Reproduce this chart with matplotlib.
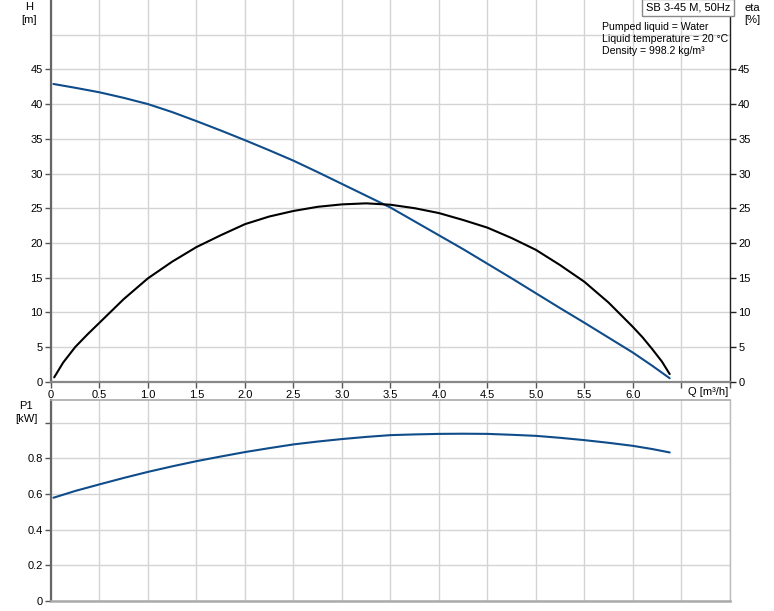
import matplotlib
matplotlib.use("Agg")
import matplotlib.pyplot as plt

# ---- data ----
q_h = [0.025, 0.25, 0.5, 0.75, 1.0, 1.25, 1.5, 1.75, 2.0, 2.25, 2.5, 2.75, 3.0, 3.25,
       3.5, 3.75, 4.0, 4.25, 4.5, 4.75, 5.0, 5.25, 5.5, 5.75, 6.0, 6.2, 6.38]
h_vals = [42.9, 42.35, 41.7, 40.9, 40.0, 38.85, 37.55, 36.2, 34.8, 33.35, 31.85, 30.2,
          28.5, 26.8, 25.1, 23.1, 21.1, 19.1, 17.0, 14.9, 12.75, 10.6, 8.5, 6.35, 4.2,
          2.3, 0.5]

q_eta = [0.033, 0.125, 0.25, 0.375, 0.5, 0.75, 1.0, 1.25, 1.5, 1.75, 2.0, 2.25, 2.5, 2.75,
         3.0, 3.25, 3.5, 3.75, 4.0, 4.25, 4.5, 4.75, 5.0, 5.25, 5.5, 5.75, 6.0, 6.1, 6.2,
         6.3, 6.38]
eta_vals = [0.63, 2.75, 5.0, 6.8, 8.5, 11.9, 14.9, 17.3, 19.4, 21.1, 22.7, 23.8, 24.6,
            25.2, 25.55, 25.7, 25.5, 25.0, 24.3, 23.3, 22.2, 20.7, 19.0, 16.8, 14.4, 11.4,
            7.9, 6.4, 4.7, 2.9, 1.1]

q_p1 = [0.025, 0.25, 0.5, 0.75, 1.0, 1.25, 1.5, 1.75, 2.0, 2.25, 2.5, 2.75, 3.0, 3.25,
        3.5, 3.75, 4.0, 4.25, 4.5, 4.75, 5.0, 5.25, 5.5, 5.75, 6.0, 6.2, 6.38]
p1_vals = [0.579, 0.617, 0.654, 0.690, 0.724, 0.755, 0.784, 0.810, 0.835, 0.857, 0.878,
           0.894, 0.908, 0.920, 0.930, 0.934, 0.937, 0.938, 0.937, 0.932, 0.926, 0.915,
           0.902, 0.887, 0.870, 0.852, 0.833]

x_ticks = [0, 0.5, 1.0, 1.5, 2.0, 2.5, 3.0, 3.5, 4.0, 4.5, 5.0, 5.5, 6.0, 6.5, 7.0]
x_labels = ["0", "0.5", "1.0", "1.5", "2.0", "2.5", "3.0", "3.5", "4.0", "4.5",
            "5.0", "5.5", "6.0", "", ""]
h_ticks = [0, 5, 10, 15, 20, 25, 30, 35, 40, 45]
h_labels = ["0", "5", "10", "15", "20", "25", "30", "35", "40", "45"]
h_extra_grid = [50]
p_ticks = [0, 0.2, 0.4, 0.6, 0.8, 1.0]
p_labels = ["0", "0.2", "0.4", "0.6", "0.8", ""]

title_box = "SB 3-45 M, 50Hz"
info_lines = ["Pumped liquid = Water", "Liquid temperature = 20 °C", "Density = 998.2 kg/m³"]

# ---- style ----
W, H = 774, 611
BLUE = "#0f4c8a"
GRID = "#d4d4d4"
FS = 8
FS_INFO = 7.6
plt.rcParams["font.family"] = ["Liberation Sans", "DejaVu Sans"]

fig = plt.figure(figsize=(W / 100, H / 100), dpi=100)
fig.patch.set_facecolor("white")

def fx(px):
    return px / W

def fy(py):
    return 1 - py / H

L, R = 51, 729.8
ax1 = fig.add_axes([fx(L), fy(381.7), fx(R - L), 381.7 / H])
ax2 = fig.add_axes([fx(L), fy(601), fx(R - L), (601 - 400) / H])

for ax in (ax1, ax2):
    ax.set_xlim(0, 7)
    ax.set_xticks(x_ticks)
    ax.grid(True, color=GRID, linewidth=1.0)
    ax.set_axisbelow(True)
    ax.tick_params(direction="out", length=4, width=1, colors="#555555",
                   labelcolor="#000000", labelsize=FS, pad=2)

# top axes
ax1.set_ylim(0, 55)
ax1.set_yticks(h_ticks)
ax1.set_yticklabels(h_labels)
ax1.set_xticklabels(x_labels)
for g in h_extra_grid:
    ax1.axhline(g, color=GRID, linewidth=1.0, zorder=0.5)
ax1.plot(q_h, h_vals, color=BLUE, linewidth=1.5, solid_capstyle="round",
         solid_joinstyle="round")
ax1.plot(q_eta, eta_vals, color="black", linewidth=1.5, solid_capstyle="round",
         solid_joinstyle="round")
ax1.spines["top"].set_visible(False)
ax1.spines["left"].set_color("#666666")
ax1.spines["left"].set_linewidth(1.6)
ax1.spines["bottom"].set_color("#888888")
ax1.spines["bottom"].set_linewidth(1.6)
ax1.spines["right"].set_color("#222222")
ax1.spines["right"].set_linewidth(1.0)

ax1r = ax1.twinx()
ax1r.set_ylim(0, 55)
ax1r.set_yticks(h_ticks)
ax1r.set_yticklabels(h_labels)
ax1r.tick_params(direction="out", length=4, width=1, colors="#222222",
                 labelcolor="#000000", labelsize=FS, pad=2)
for s in ax1r.spines.values():
    s.set_visible(False)

# bottom axes
ax2.set_ylim(0, 1.127)
ax2.set_yticks(p_ticks)
ax2.set_yticklabels(p_labels)
ax2.tick_params(axis="x", length=0, labelbottom=False)
ax2.plot(q_p1, p1_vals, color=BLUE, linewidth=1.5, solid_capstyle="round",
         solid_joinstyle="round")
ax2.spines["left"].set_color("#666666")
ax2.spines["left"].set_linewidth(1.6)
ax2.spines["bottom"].set_color("#aaaaaa")
ax2.spines["bottom"].set_linewidth(1.8)
ax2.spines["top"].set_color("#aaaaaa")
ax2.spines["top"].set_linewidth(1.2)
ax2.spines["right"].set_color("#bbbbbb")
ax2.spines["right"].set_linewidth(1.0)

# labels
fig.text(fx(29), fy(7), "H", ha="center", va="center", fontsize=FS)
fig.text(fx(29), fy(20), "[m]", ha="center", va="center", fontsize=FS)
fig.text(fx(752), fy(8), "eta", ha="center", va="center", fontsize=FS)
fig.text(fx(752), fy(20), "[%]", ha="center", va="center", fontsize=FS)
fig.text(fx(26), fy(406), "P1", ha="center", va="center", fontsize=FS)
fig.text(fx(26), fy(419), "[kW]", ha="center", va="center", fontsize=FS)
fig.text(fx(728), fy(392), "Q [m³/h]", ha="right", va="center", fontsize=FS)

fig.text(fx(688), fy(7.5), title_box, ha="center", va="center", fontsize=FS,
         bbox=dict(boxstyle="square,pad=0.3", facecolor="white", edgecolor="#888888",
                   linewidth=1.0))
for i, line in enumerate(info_lines):
    fig.text(fx(602), fy(27 + 12 * i), line, ha="left", va="center", fontsize=FS_INFO)

fig.savefig("out.png", dpi=100, facecolor="white")
